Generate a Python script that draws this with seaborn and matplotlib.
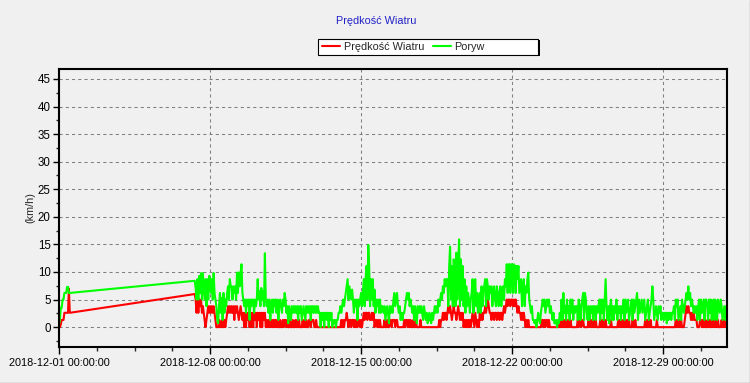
import numpy as np
import pandas as pd
import matplotlib
matplotlib.use("Agg")
import matplotlib.pyplot as plt
import matplotlib.dates as mdates
from matplotlib.patches import Rectangle
from matplotlib.lines import Line2D
from matplotlib.ticker import MultipleLocator, FixedLocator
import seaborn as sns

sns.set_style("ticks")
plt.rcParams['font.family'] = ['Liberation Sans', 'DejaVu Sans']

title = "Prędkość Wiatru"
labels = ["Prędkość Wiatru", "Poryw"]
y_label = "(km/h)"

# 2018-12-01 00:00 - 12:00, co godzine
gust_start = [0.5, 1.3, 3.5, 3.5, 5.0, 5.0, 6.2, 6.2, 6.2, 7.3, 7.3, 6.2, 6.2]
speed_start = [0.0, 0.0, 0.5, 1.3, 1.3, 1.3, 2.6, 2.6, 2.6, 2.6, 2.6, 7.0, 2.6]

# 2018-12-07 07:00 - 2018-12-31 23:00, co godzine (jeden wiersz = jeden dzien)
gust = [
    8.4, 7.1, 5.0, 8.7, 5.0, 9.3, 6.2, 9.8, 5.0, 9.8, 7.4, 5.0, 8.7, 3.8, 8.7, 5.0, 9.3,  # 12-07
    8.7, 6.2, 8.7, 5.0, 9.8, 6.2, 5.0, 3.8, 1.3, 0.7, 3.8, 6.2, 2.6, 5.3, 1.3, 6.2, 2.6, 5.0, 3.8, 6.2, 7.4, 5.0, 8.7, 7.4,  # 12-08
    7.4, 5.0, 7.4, 6.2, 7.4, 5.0, 9.9, 6.2, 9.9, 7.4, 9.9, 11.4, 6.2, 5.0, 3.8, 5.0, 2.6, 5.0, 3.8, 5.0, 1.3, 5.0, 3.8, 5.0,  # 12-09
    5.0, 2.6, 5.0, 3.8, 5.0, 8.7, 5.0, 6.5, 3.8, 7.1, 5.0, 6.5, 3.8, 13.4, 5.0, 3.8, 5.0, 2.6, 5.0, 1.3, 3.8, 5.0, 2.6, 5.0,  # 12-10
    3.8, 5.0, 2.6, 5.0, 1.3, 3.8, 5.0, 3.8, 2.6, 5.0, 3.8, 6.2, 5.0, 2.6, 3.8, 0.7, 3.8, 2.6, 1.3, 3.8, 2.6, 3.8, 2.6, 3.8,  # 12-11
    2.6, 3.8, 1.3, 3.8, 2.6, 3.8, 1.3, 2.6, 3.8, 2.6, 1.3, 3.8, 2.6, 3.8, 2.6, 3.8, 1.3, 3.8, 3.8, 2.6, 3.8, 2.6, 3.8, 2.6,  # 12-12
    3.8, 2.6, 2.6, 0.0, 2.6, 1.3, 2.6, 0.0, 2.6, 2.6, 1.3, 2.6, 0.0, 2.6, 1.3, 2.6, 0.0, 1.3, 0.7, 1.3, 0.0, 1.3, 1.3, 2.6,  # 12-13
    2.6, 3.8, 2.6, 3.8, 5.0, 3.8, 5.0, 6.2, 7.4, 8.7, 5.0, 7.4, 6.2, 5.0, 6.8, 5.0, 2.6, 5.0, 3.8, 5.0, 1.3, 5.0, 3.8, 5.0,  # 12-14
    6.2, 3.8, 6.2, 8.7, 3.8, 8.7, 11.1, 5.0, 14.9, 11.1, 3.8, 8.7, 5.0, 8.7, 3.8, 6.8, 2.6, 5.0, 3.8, 5.0, 2.6, 5.0, 2.6, 3.8,  # 12-15
    3.8, 2.6, 3.8, 1.3, 2.6, 3.8, 2.6, 0.7, 3.8, 2.6, 3.8, 2.6, 5.0, 6.2, 3.8, 5.0, 6.2, 3.8, 2.6, 3.8, 1.3, 2.6, 1.3, 2.6,  # 12-16
    2.6, 3.8, 5.0, 6.2, 5.0, 6.2, 3.8, 5.0, 3.8, 2.6, 3.8, 1.3, 3.8, 2.6, 0.7, 3.8, 2.6, 3.8, 2.6, 3.8, 2.6, 1.3, 3.8, 2.6,  # 12-17
    1.3, 2.6, 0.7, 1.3, 2.6, 1.3, 0.7, 2.6, 1.3, 2.6, 3.8, 2.6, 3.8, 2.6, 5.0, 3.8, 5.0, 6.2, 5.0, 7.4, 6.2, 8.7, 7.4, 8.7,  # 12-18
    8.7, 3.8, 11.1, 14.6, 5.0, 11.1, 3.8, 12.3, 9.9, 3.8, 13.5, 5.0, 11.1, 15.9, 3.8, 12.3, 5.0, 11.1, 3.8, 8.7, 2.6, 7.4, 3.8, 6.2,  # 12-19
    5.0, 2.6, 5.0, 6.2, 8.7, 2.6, 7.4, 8.7, 3.8, 6.2, 2.6, 5.0, 6.2, 2.6, 7.4, 3.8, 6.2, 7.4, 8.7, 3.8, 8.7, 7.4, 5.0, 7.4,  # 12-20
    6.2, 7.4, 3.8, 6.2, 7.4, 5.0, 3.8, 7.4, 6.2, 3.8, 6.2, 7.4, 3.8, 6.2, 7.4, 5.0, 8.7, 7.4, 11.4, 6.2, 11.4, 11.4, 6.2, 11.4,  # 12-21
    11.4, 6.2, 11.4, 11.1, 6.2, 11.1, 8.7, 11.1, 6.2, 7.4, 8.7, 3.8, 7.4, 8.7, 3.8, 7.4, 6.2, 8.7, 9.9, 5.0, 3.8, 2.6, 3.8, 1.3,  # 12-22
    1.3, 0.7, 1.3, 0.0, 1.3, 2.6, 1.3, 0.7, 2.6, 3.8, 5.0, 3.8, 5.0, 2.6, 3.8, 5.0, 3.8, 5.0, 2.6, 3.8, 2.6, 1.3, 2.6, 0.7,  # 12-23
    0.7, 1.3, 0.0, 1.3, 0.7, 2.6, 1.3, 5.0, 1.3, 6.2, 2.6, 3.8, 1.3, 5.0, 2.6, 3.8, 1.3, 5.0, 2.6, 5.0, 1.3, 3.8, 2.6, 3.8,  # 12-24
    3.8, 1.3, 5.0, 3.8, 1.3, 3.8, 5.0, 6.2, 1.3, 6.2, 5.0, 2.6, 1.3, 3.8, 1.3, 3.8, 2.6, 3.8, 1.3, 3.8, 3.8, 1.3, 3.8, 2.6,  # 12-25
    3.8, 5.0, 1.3, 5.0, 2.6, 5.0, 1.3, 5.0, 8.7, 3.8, 1.3, 3.8, 0.7, 3.8, 5.0, 1.3, 3.8, 1.3, 3.8, 2.6, 5.0, 1.3, 3.8, 2.6,  # 12-26
    3.8, 1.3, 3.8, 2.6, 5.0, 1.3, 5.0, 2.6, 3.8, 5.0, 1.3, 2.6, 3.8, 5.0, 1.3, 5.0, 2.6, 3.8, 5.0, 6.2, 1.3, 5.0, 2.6, 3.8,  # 12-27
    5.0, 2.6, 3.8, 5.0, 1.3, 2.6, 3.8, 5.0, 1.3, 2.6, 3.8, 5.0, 7.4, 5.0, 1.3, 2.6, 3.8, 2.6, 1.3, 3.8, 2.6, 3.8, 1.3, 2.6,  # 12-28
    2.6, 1.3, 2.6, 2.6, 0.7, 2.6, 1.3, 2.6, 2.6, 1.3, 2.6, 2.6, 3.8, 1.3, 5.0, 3.8, 5.0, 1.3, 2.6, 3.8, 1.3, 5.0, 3.8, 2.6,  # 12-29
    3.8, 5.0, 6.2, 5.0, 7.4, 5.0, 6.2, 3.8, 5.0, 3.8, 2.6, 3.8, 2.6, 3.8, 1.3, 3.8, 5.0, 1.3, 5.0, 2.6, 3.8, 5.0, 1.3, 5.0,  # 12-30
    5.0, 3.8, 1.3, 5.0, 2.6, 5.0, 1.3, 3.8, 5.0, 1.3, 5.0, 3.8, 1.3, 5.0, 3.8, 2.6, 5.0, 3.8, 1.3, 2.6, 3.8, 1.3, 3.8, 2.6,  # 12-31
]

speed = [
    6.0, 5.0, 2.6, 5.0, 2.6, 5.0, 3.8, 5.0, 2.6, 3.8, 2.6, 1.3, 0.0, 1.3, 2.6, 3.8, 2.6,  # 12-07
    3.8, 2.6, 3.8, 2.6, 3.8, 2.6, 1.3, 0.0, 0.0, 0.0, 1.3, 0.0, 0.0, 1.3, 0.0, 0.0, 1.3, 0.0, 1.3, 2.6, 3.8, 2.6, 3.8, 2.6,  # 12-08
    3.8, 2.6, 3.8, 1.3, 3.8, 2.6, 3.8, 2.6, 1.3, 2.6, 3.8, 2.6, 1.3, 2.6, 0.0, 2.6, 0.0, 2.6, 1.3, 2.6, 0.0, 2.6, 0.0, 2.6,  # 12-09
    0.0, 2.6, 1.3, 2.6, 0.0, 2.6, 1.3, 2.6, 0.0, 2.6, 0.0, 2.6, 1.3, 2.6, 0.0, 1.3, 0.0, 1.3, 0.0, 1.3, 0.0, 1.3, 0.0, 1.3,  # 12-10
    0.0, 1.3, 0.0, 1.3, 0.0, 0.0, 1.3, 0.0, 0.0, 1.3, 0.0, 1.3, 1.3, 0.0, 1.3, 0.0, 0.0, 1.3, 0.0, 0.0, 1.3, 0.0, 0.0, 1.3,  # 12-11
    0.0, 1.3, 0.0, 1.3, 0.0, 0.0, 0.0, 1.3, 0.0, 1.3, 0.0, 1.3, 0.0, 0.0, 1.3, 1.3, 0.0, 1.3, 1.3, 1.3, 0.0, 0.0, 1.3, 0.0,  # 12-12
    0.0, 0.0, 0.0, 0.0, 0.0, 0.0, 0.0, 0.0, 0.0, 0.0, 0.0, 0.0, 0.0, 0.0, 0.0, 0.0, 0.0, 0.0, 0.0, 0.0, 0.0, 0.0, 0.0, 0.0,  # 12-13
    0.0, 0.0, 1.3, 0.0, 1.3, 0.0, 1.3, 1.3, 2.6, 1.3, 0.0, 1.3, 1.3, 0.0, 1.3, 1.3, 0.0, 1.3, 0.0, 1.3, 0.0, 1.3, 1.3, 0.0,  # 12-14
    1.3, 0.0, 1.3, 2.6, 1.3, 2.6, 2.6, 1.3, 2.6, 2.6, 1.3, 1.3, 2.6, 1.3, 2.6, 0.0, 1.3, 1.3, 0.0, 1.3, 0.0, 1.3, 0.0, 0.0,  # 12-15
    0.0, 0.0, 1.3, 0.0, 0.0, 1.3, 0.0, 0.0, 1.3, 1.3, 0.0, 1.3, 1.3, 1.3, 0.0, 1.3, 1.3, 0.0, 0.0, 0.0, 0.0, 0.0, 0.0, 0.0,  # 12-16
    1.3, 0.0, 1.3, 1.3, 0.0, 1.3, 0.0, 1.3, 0.0, 0.0, 1.3, 0.0, 0.0, 1.3, 0.0, 0.0, 0.0, 0.0, 1.3, 0.0, 0.0, 0.0, 0.0, 0.0,  # 12-17
    0.0, 0.0, 0.0, 0.0, 0.0, 0.0, 0.0, 0.0, 0.0, 0.0, 0.0, 0.0, 0.0, 0.0, 0.0, 1.3, 0.0, 1.3, 1.3, 2.6, 1.3, 2.6, 2.6, 1.3,  # 12-18
    2.6, 3.8, 2.6, 3.8, 2.6, 1.3, 2.6, 3.8, 2.6, 2.6, 1.3, 2.6, 3.8, 2.6, 1.3, 2.6, 1.3, 2.6, 0.0, 1.3, 0.0, 1.3, 0.0, 1.3,  # 12-19
    0.0, 1.3, 0.0, 1.3, 2.6, 1.3, 0.0, 2.6, 1.3, 0.0, 1.3, 0.0, 2.6, 1.3, 2.6, 1.3, 2.6, 2.6, 3.8, 2.6, 3.8, 5.0, 3.8, 2.6,  # 12-20
    2.6, 1.3, 2.6, 2.6, 1.3, 2.6, 2.6, 1.3, 2.6, 2.6, 1.3, 2.6, 2.6, 1.3, 2.6, 3.8, 2.6, 3.8, 5.0, 3.8, 5.0, 5.0, 3.8, 5.0,  # 12-21
    5.0, 3.8, 5.0, 3.8, 5.0, 3.8, 2.6, 3.8, 2.6, 2.6, 1.3, 2.6, 1.3, 2.6, 1.3, 0.0, 1.3, 0.0, 1.3, 0.0, 0.0, 0.0, 0.0, 0.0,  # 12-22
    0.0, 0.0, 0.0, 0.0, 0.0, 0.0, 0.0, 0.0, 0.0, 1.3, 1.3, 0.0, 1.3, 0.0, 1.3, 1.3, 0.0, 1.3, 0.0, 0.0, 0.0, 0.0, 0.0, 0.0,  # 12-23
    0.0, 0.0, 0.0, 0.0, 0.0, 1.3, 0.0, 1.3, 0.0, 1.3, 0.0, 1.3, 0.0, 1.3, 0.0, 1.3, 0.0, 1.3, 0.0, 0.0, 0.0, 0.0, 0.0, 0.0,  # 12-24
    0.0, 1.3, 0.0, 1.3, 1.3, 0.0, 1.3, 1.3, 0.0, 0.0, 0.0, 0.0, 0.0, 1.3, 0.0, 1.3, 0.0, 1.3, 0.0, 1.3, 0.0, 1.3, 0.0, 0.0,  # 12-25
    0.0, 0.0, 1.3, 0.0, 1.3, 0.0, 1.3, 0.0, 1.3, 0.0, 0.0, 0.0, 0.0, 0.0, 1.3, 0.0, 0.0, 0.0, 0.0, 0.0, 0.0, 0.0, 1.3, 0.0,  # 12-26
    1.3, 0.0, 1.3, 0.0, 1.3, 0.0, 1.3, 0.0, 1.3, 0.0, 1.3, 0.0, 0.0, 0.0, 1.3, 0.0, 0.0, 1.3, 0.0, 0.0, 0.0, 0.0, 0.0, 0.0,  # 12-27
    0.0, 0.0, 0.0, 0.0, 1.3, 0.0, 1.3, 0.0, 1.3, 0.0, 1.3, 0.0, 0.0, 0.0, 0.0, 0.0, 0.0, 1.3, 0.0, 0.0, 0.0, 0.0, 0.0, 0.0,  # 12-28
    0.0, 0.0, 0.0, 0.0, 0.0, 0.0, 0.0, 0.0, 0.0, 0.0, 0.0, 0.0, 0.0, 0.0, 1.3, 0.0, 1.3, 0.0, 1.3, 0.0, 1.3, 0.0, 0.0, 0.0,  # 12-29
    1.3, 2.6, 3.8, 2.6, 3.8, 2.6, 2.6, 1.3, 2.6, 1.3, 2.6, 1.3, 1.3, 1.3, 0.0, 0.0, 0.0, 1.3, 1.3, 0.0, 1.3, 0.0, 1.3, 0.0,  # 12-30
    0.0, 1.3, 0.0, 1.3, 0.0, 1.3, 0.0, 1.3, 0.0, 1.3, 0.0, 1.3, 0.0, 1.3, 0.0, 0.0, 0.0, 1.3, 0.0, 1.3, 0.0, 1.3, 0.0, 0.0,  # 12-31
]

t_start = pd.date_range("2018-12-01 00:00", periods=len(gust_start), freq="h")
t_main = pd.date_range("2018-12-07 07:00", periods=len(gust), freq="h")
df = pd.DataFrame({
    "czas": t_start.append(t_main),
    "speed": speed_start + speed,
    "gust": gust_start + gust,
})

bg = "#f0f0f0"
fig = plt.figure(figsize=(7.5, 3.83), dpi=100, facecolor=bg)
ax = fig.add_axes([59 / 750, 1 - 347 / 383, 668 / 750, 278 / 383])
ax.set_facecolor(bg)

sns.lineplot(data=df, x="czas", y="speed", color="#ff0000", linewidth=1.5,
             estimator=None, ax=ax)
sns.lineplot(data=df, x="czas", y="gust", color="#00ff00", linewidth=1.5,
             estimator=None, ax=ax)

ax.set_xlim(pd.Timestamp("2018-12-01 00:00"), pd.Timestamp("2018-12-31 23:00"))
ax.set_ylim(-3.6, 46.8)

ax.xaxis.set_major_locator(mdates.DayLocator(bymonthday=[1, 8, 15, 22, 29]))
ax.xaxis.set_major_formatter(mdates.DateFormatter("%Y-%m-%d %H:%M:%S"))
x0 = mdates.date2num(pd.Timestamp("2018-12-01"))
ax.xaxis.set_minor_locator(FixedLocator(x0 + np.arange(0, 31, 1.75)))
ax.yaxis.set_major_locator(MultipleLocator(5))
ax.yaxis.set_minor_locator(MultipleLocator(2.5))

ax.grid(True, which="major", color="#808080", linestyle=(0, (3, 3)), linewidth=0.75)
ax.set_axisbelow(True)

ax.tick_params(axis="x", which="major", length=5, width=1, labelsize=7.8, pad=3, colors="black")
ax.tick_params(axis="x", which="minor", length=3, width=1)
ax.tick_params(axis="y", which="major", length=4, width=1, labelsize=8.3, pad=2, colors="black")
ax.tick_params(axis="y", which="minor", length=2, width=1)
for s in ax.spines.values():
    s.set_linewidth(1.5)
    s.set_color("black")

ax.set_xlabel("")
ax.set_ylabel(y_label, fontsize=7.8)
ax.yaxis.set_label_coords(-0.036, 0.5)

fig.text(376 / 750, 1 - 21 / 383, title, ha="center", va="center",
         color="#2020c8", fontsize=7.8)

# ramka legendy
bx0, by0, bw, bh = 318 / 750, 1 - 55 / 383, 220 / 750, 16 / 383
fig.patches.append(Rectangle((bx0 + 1.5 / 750, by0 - 1.5 / 383), bw, bh,
                             transform=fig.transFigure, facecolor="black",
                             edgecolor="none", zorder=5))
fig.patches.append(Rectangle((bx0, by0), bw, bh, transform=fig.transFigure,
                             facecolor="white", edgecolor="black", lw=0.8, zorder=6))
handles = [Line2D([], [], color="#ff0000", lw=1.5), Line2D([], [], color="#00ff00", lw=1.5)]
leg = fig.legend(handles, labels, loc="center left", bbox_to_anchor=(322 / 750, 1 - 47 / 383),
                 ncol=2, frameon=False, fontsize=7.8, handlelength=1.7,
                 handletextpad=0.3, columnspacing=0.8, borderpad=0, borderaxespad=0)
leg.set_zorder(10)

# szara obwodka obrazka
fig.add_artist(Line2D([749.5 / 750] * 2, [0, 1], color="#a0a0a0", lw=1, transform=fig.transFigure))
fig.add_artist(Line2D([0, 1], [0.5 / 383] * 2, color="#a0a0a0", lw=1, transform=fig.transFigure))

fig.savefig("out.png", dpi=100, facecolor=bg)
